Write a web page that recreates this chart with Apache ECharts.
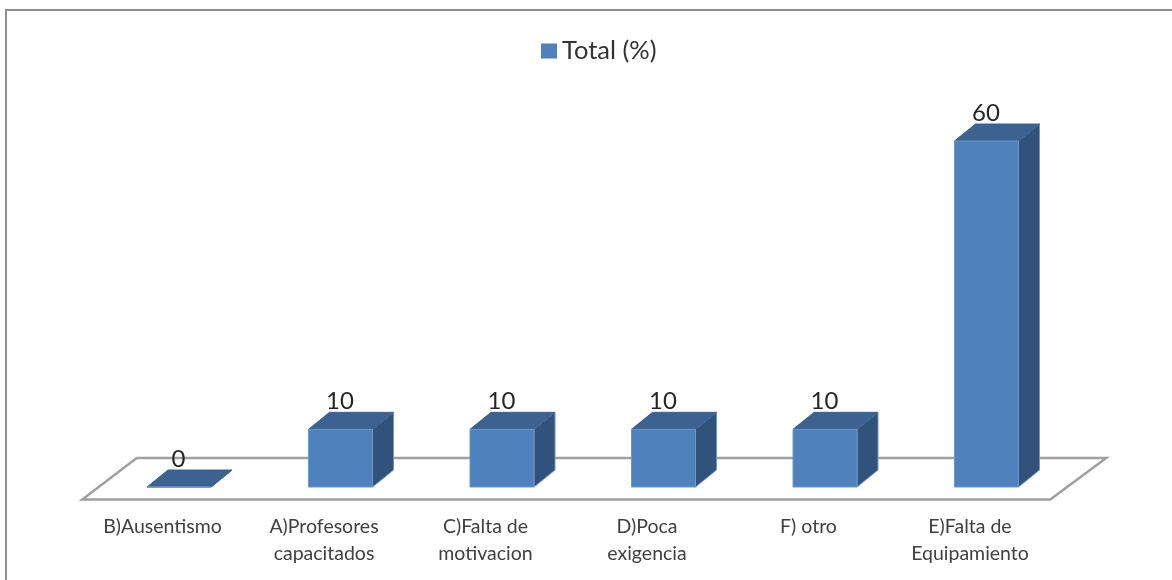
<!DOCTYPE html>
<html>
<head>
<meta charset="utf-8">
<style>
	html, body { margin: 0; padding: 0; background: #fff; }
	#chart { width: 1172px; height: 580px; }
</style>
<script src="https://cdn.jsdelivr.net/npm/echarts@6/dist/echarts.min.js"></script>
</head>
<body>
<div id="chart"></div>
<script>
const categories = ['B)Ausentismo', 'A)Profesores\ncapacitados', 'C)Falta de\nmotivacion', 'D)Poca\nexigencia', 'F) otro', 'E)Falta de\nEquipamiento'];
const totals = [0, 10, 10, 10, 10, 60];

const FONT = 'Lato, sans-serif';
const barWidth = 64;
const depthX = 21;
const depthY = 17;

function renderFloor (params, api) {
	const c = params.coordSys;
	const base = api.coord([0, 0])[1];
	const front = base + 12.5;
	const back = base - 29;
	return {
		type: 'polygon',
		silent: true,
		shape: {
			points: [
				[c.x - 16, front],
				[c.x + 38.5, back],
				[c.x + c.width + 39, back],
				[c.x + c.width - 17, front]
			]
		},
		style: { fill: '#fff', stroke: '#a0a0a0', lineWidth: 2.5 }
	};
}

function renderBar (params, api) {
	const bottom = api.coord([api.value(0), 0]);
	const top = api.coord([api.value(0), api.value(1)]);
	const x0 = bottom[0] - barWidth / 2;
	const x1 = bottom[0] + barWidth / 2;
	const edge = { stroke: '#6d97c9', lineWidth: 1 };
	const children = [
		{
			type: 'polygon',
			shape: { points: [[x1, top[1]], [x1 + depthX, top[1] - depthY], [x1 + depthX, bottom[1] - depthY], [x1, bottom[1]]] },
			style: Object.assign({ fill: '#31537b' }, edge)
		},
		{
			type: 'polygon',
			shape: { points: [[x0, top[1]], [x0 + depthX, top[1] - depthY], [x1 + depthX, top[1] - depthY], [x1, top[1]]] },
			style: { fill: '#3b6291', stroke: '#3b6291', lineWidth: 1 }
		},
		{
			type: 'rect',
			shape: { x: x0, y: top[1], width: barWidth, height: bottom[1] - top[1] },
			style: Object.assign({ fill: '#4f81bd' }, edge)
		},
		{
			type: 'text',
			z2: 10,
			style: {
				x: bottom[0] - 0.5,
				y: top[1] - 28,
				text: String(api.value(1)),
				align: 'center',
				verticalAlign: 'middle',
				fontFamily: FONT,
				fontSize: 24,
				fill: '#262626'
			}
		}
	];
	return { type: 'group', children };
}

const chart = echarts.init(document.getElementById('chart'));
chart.setOption({
	animation: false,
	backgroundColor: '#fff',
	legend: {
		data: ['Total (%)'],
		left: 536,
		top: 33,
		icon: 'rect',
		itemWidth: 16,
		itemHeight: 15,
		itemGap: 8,
		selectedMode: false,
		textStyle: { fontFamily: FONT, fontSize: 25.5, color: '#333' }
	},
	grid: { left: 98.25, top: 141, width: 969, height: 346, containLabel: false },
	xAxis: {
		type: 'category',
		data: categories,
		axisLine: { show: false },
		axisTick: { show: false },
		axisLabel: {
			interval: 0,
			margin: 26,
			padding: [0, 33, 0, 0],
			fontFamily: FONT,
			fontSize: 19.5,
			lineHeight: 27,
			color: '#404040',
			verticalAlign: 'top'
		}
	},
	yAxis: { type: 'value', min: 0, max: 60, show: false },
	graphic: [{
		type: 'polyline',
		silent: true,
		shape: { points: [[6, 580], [6, 10], [1172, 10]] },
		style: { fill: null, stroke: '#8e8e8e', lineWidth: 2 }
	}],
	series: [
		{
			name: 'floor',
			type: 'custom',
			renderItem: renderFloor,
			encode: { x: 0, y: 1 },
			data: [[0, 0]],
			z: 1
		},
		{
			name: 'Total (%)',
			type: 'custom',
			renderItem: renderBar,
			encode: { x: 0, y: 1 },
			itemStyle: { color: '#4f81bd' },
			data: totals.map(function (v, i) { return [i, v]; }),
			z: 2
		}
	]
});
</script>
</body>
</html>
